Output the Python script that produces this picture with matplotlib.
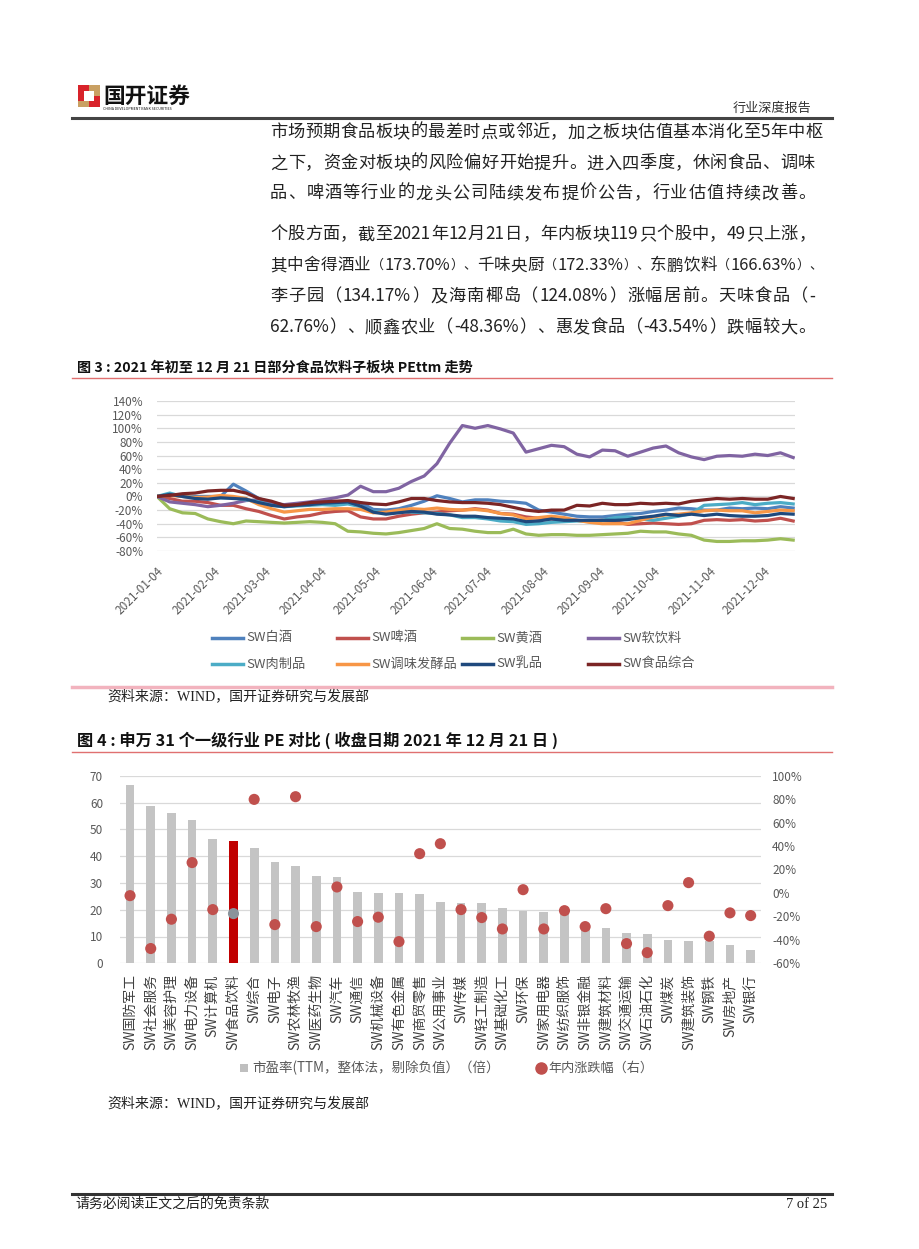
import matplotlib
matplotlib.use("Agg")
import matplotlib.pyplot as plt
from matplotlib.lines import Line2D
from matplotlib.patches import Rectangle
from matplotlib.font_manager import FontProperties, findfont, get_font
import numpy as np
import pandas as pd

plt.rcParams['font.family'] = ['Noto Sans CJK SC', 'DejaVu Sans']

W, H = 920, 1249

# ---------------- data: chart 1 (PE ttm change, %) ----------------
dates = pd.date_range('2021-01-04', '2021-12-20', freq='7D')
tick_dates = ['2021-01-04', '2021-02-04', '2021-03-04', '2021-04-04', '2021-05-04', '2021-06-04',
              '2021-07-04', '2021-08-04', '2021-09-04', '2021-10-04', '2021-11-04', '2021-12-04']
y1_ticks = [-80, -60, -40, -20, 0, 20, 40, 60, 80, 100, 120, 140]

baijiu = [0, 3, 0, 0, 0, 0, 18, 8, -3, -9, -13, -12, -9, -10, -9, -7, -9, -19, -20, -18, -13, -7, 1, -3, -8,
          -5, -5, -7, -8, -10, -20, -23, -26, -29, -30, -30, -28, -26, -25, -22, -20, -17, -18, -20, -20, -17,
          -18, -17, -18, -15, -17]
pijiu = [0, -3, -7, -7, -9, -13, -13, -18, -22, -28, -33, -30, -28, -24, -22, -21, -30, -33, -33, -29, -26, -24,
         -23, -21, -20, -18, -20, -25, -26, -30, -32, -33, -34, -35, -36, -35, -37, -41, -40, -39, -40, -41, -40,
         -35, -34, -35, -34, -36, -35, -32, -36]
huangjiu = [0, -18, -24, -25, -33, -37, -40, -36, -37, -38, -39, -38, -37, -38, -40, -51, -52, -54, -55, -53, -50,
            -47, -40, -47, -48, -51, -53, -53, -48, -55, -57, -56, -56, -57, -57, -56, -55, -54, -51, -52, -52, -55,
            -57, -64, -66, -66, -65, -65, -64, -62, -64]
ruanyinliao = [0, -8, -10, -12, -15, -13, -10, -6, -5, -10, -12, -10, -8, -5, -2, 2, 15, 7, 7, 12, 22, 30, 48, 78,
               104, 100, 104, 99, 93, 65, 70, 75, 73, 62, 58, 68, 67, 59, 65, 71, 74, 64, 58, 54, 59, 60, 59, 62,
               60, 64, 57]
rouzhipin = [0, 5, 0, -2, -3, -2, -2, -5, -8, -13, -15, -14, -13, -12, -13, -11, -15, -22, -24, -21, -23, -24, -25,
             -27, -31, -31, -33, -36, -37, -41, -40, -38, -37, -36, -37, -35, -31, -30, -33, -35, -32, -29, -25,
             -13, -12, -11, -9, -12, -10, -9, -11]
tiaowei = [0, 1.5, 0, -1.5, -1, 1.5, 0, -3, -12, -18, -23, -21, -19, -19, -18, -18, -19, -24, -23, -20, -18, -19,
           -17, -19, -20, -19, -21, -25, -27, -33, -31, -29, -31, -35, -38, -40, -40, -40, -35, -30, -27, -26, -24,
           -21, -20, -21, -21, -24, -22, -20, -21]
rupin = [0, 3, 0, -3, -4, -2, -3, -4, -9, -13, -15, -13, -12, -10, -9, -8, -14, -23, -26, -24, -22, -23, -26, -27,
         -29, -29, -31, -32, -33, -37, -36, -33, -35, -35, -35, -35, -35, -34, -31, -29, -26, -28, -26, -28, -26,
         -28, -29, -29, -28, -25, -26]
shipin = [0, 1.5, 4, 5, 8, 9, 9, 5, -3, -7, -13, -12, -9, -8, -7, -6, -9, -11, -12, -8, -3, -3, -6, -8, -9, -9,
          -10, -12, -16, -20, -22, -20, -20, -13, -14, -10, -12, -12, -10, -11, -10, -11, -7, -5, -3, -4, -3, -4,
          -4, 0, -3]

series_names = ['SW白酒', 'SW啤酒', 'SW黄酒', 'SW软饮料', 'SW肉制品', 'SW调味发酵品', 'SW乳品', 'SW食品综合']
series_vals = [baijiu, pijiu, huangjiu, ruanyinliao, rouzhipin, tiaowei, rupin, shipin]
series_colors = ['#4F81BD', '#C0504D', '#9BBB59', '#8064A2', '#4BACC6', '#F79646', '#1F497D', '#7B2525']

# ---------------- data: chart 2 ----------------
industries = ['SW国防军工', 'SW社会服务', 'SW美容护理', 'SW电力设备', 'SW计算机', 'SW食品饮料', 'SW综合', 'SW电子',
              'SW农林牧渔', 'SW医药生物', 'SW汽车', 'SW通信', 'SW机械设备', 'SW有色金属', 'SW商贸零售', 'SW公用事业',
              'SW传媒', 'SW轻工制造', 'SW基础化工', 'SW环保', 'SW家用电器', 'SW纺织服饰', 'SW非银金融', 'SW建筑材料',
              'SW交通运输', 'SW石油石化', 'SW煤炭', 'SW建筑装饰', 'SW钢铁', 'SW房地产', 'SW银行']
pe_ttm = [66.4, 58.7, 56.0, 53.5, 46.3, 45.6, 43.0, 37.7, 36.3, 32.6, 32.1, 26.7, 26.2, 26.2, 25.7, 22.9,
          22.5, 22.5, 20.5, 19.7, 19.0, 18.3, 13.1, 13.1, 11.3, 10.9, 8.7, 8.5, 8.3, 6.8, 5.0]
ytd_change = [-2.3, -47.4, -22.4, 25.9, -14.2, -17.6, 79.8, -27.0, 82.1, -28.7, 5.1, -24.4, -20.7, -41.5, 33.5,
              42.0, -14.2, -21.0, -30.7, 2.8, -30.7, -15.1, -28.7, -13.4, -43.2, -50.9, -10.8, 8.8, -36.9, -17.0,
              -19.3]
highlight = 'SW食品饮料'

# ---------------- figure ----------------
fig = plt.figure(figsize=(W / 100, H / 100), dpi=100)
fig.patch.set_facecolor('white')
renderer = fig.canvas.get_renderer()


def fx(x):
    return x / W


def fy(y):
    return 1 - y / H


def hline(y, x0=72, x1=832, color='#333333', lw=1.0):
    fig.add_artist(Line2D([fx(x0), fx(x1)], [fy(y), fy(y)], color=color, lw=lw, transform=fig.transFigure))


def fit_text(x, y, s, width, fs0=10, **kw):
    t = fig.text(fx(x), fy(y), s, fontsize=fs0, **kw)
    bb = t.get_window_extent(renderer)
    if bb.width > 0:
        t.set_fontsize(fs0 * width / bb.width)
    return t


# justified body text, placed token by token (CJK glyphs singly, latin runs together)
BODY_FS = 12.4
body_fp = FontProperties(family='Noto Sans CJK SC')
body_font = get_font(findfont(body_fp))
PUNCT = '（）、，。：；'


def glyph_adv(ch, fs):
    body_font.set_size(fs, 100)
    g = body_font.load_char(ord(ch))
    return g.linearHoriAdvance / 65536.0


def tokenize(s):
    toks = []
    buf = ''
    for c in s:
        if ord(c) < 128:
            buf += c
        else:
            if buf:
                toks.append(buf)
                buf = ''
            toks.append(c)
    if buf:
        toks.append(buf)
    return toks


def draw_justified(yc, s, x0=270, x1=815):
    toks = tokenize(s)
    target = x1 - x0
    fs = BODY_FS
    natural = sum(glyph_adv(c, fs) for tk in toks for c in tk)
    if natural > target:
        fs = BODY_FS * max(0.96, target / natural)
    sizes = [fs] * len(toks)
    advs = [sum(glyph_adv(c, fs) for c in tk) for tk in toks]
    em = fs * 100 / 72
    total = sum(advs)
    if total > target:
        # compress: draw full-width punctuation a little smaller
        idx = [i for i, tk in enumerate(toks) if len(tk) == 1 and tk in PUNCT]
        p_total = sum(advs[i] for i in idx)
        if p_total > 0:
            scale = max(0.6, 1 - (total - target) / p_total)
            for i in idx:
                sizes[i] = fs * scale
                advs[i] = glyph_adv(toks[i], sizes[i])
        total = sum(advs)
    gap = (target - total) / (len(toks) - 1)
    x = x0
    base = yc + 6.3
    for i, tk in enumerate(toks):
        lift = (1 - sizes[i] / fs) * 0.38 * em
        fig.text(fx(x), fy(base - lift), tk, fontsize=sizes[i], color='#222222',
                 family='Noto Sans CJK SC', va='baseline', ha='left')
        x += advs[i] + max(gap, 0.3)


# header logo
fig.add_artist(Rectangle((fx(78), fy(107)), 22 / W, 22 / H, transform=fig.transFigure, color='#D8232A', lw=0))
fig.add_artist(Rectangle((fx(89), fy(96)), 11 / W, 11 / H, transform=fig.transFigure, color='#C9A063', lw=0))
fig.add_artist(Rectangle((fx(78), fy(107)), 11 / W, 6 / H, transform=fig.transFigure, color='#C9A063', lw=0))
fig.add_artist(Rectangle((fx(84), fy(101)), 10 / W, 10 / H, transform=fig.transFigure, color='white', lw=0))
fit_text(103, 96, '国开证券', 87, 16, fontweight='bold', color='#111111', va='center', ha='left')
fig.text(fx(103), fy(109), 'CHINA DEVELOPMENT BANK SECURITIES', fontsize=2.6, color='#111111', va='center')
fit_text(733, 108, '行业深度报告', 79, 9.5, color='#333333', va='center', ha='left')
hline(118, color='#444444', lw=2.2)

# body text
body = [
    (131, '市场预期食品板块的最差时点或邻近，加之板块估值基本消化至5年中枢'),
    (162, '之下，资金对板块的风险偏好开始提升。进入四季度，休闲食品、调味'),
    (192, '品、啤酒等行业的龙头公司陆续发布提价公告，行业估值持续改善。'),
    (233, '个股方面，截至2021年12月21日，年内板块119只个股中，49只上涨，'),
    (264, '其中舍得酒业（173.70%）、千味央厨（172.33%）、东鹏饮料（166.63%）、'),
    (295, '李子园（134.17%）及海南椰岛（124.08%）涨幅居前。天味食品（-'),
    (326, '62.76%）、顺鑫农业（-48.36%）、惠发食品（-43.54%）跌幅较大。'),
]
for y, t in body:
    draw_justified(y, t)

# chart 1 title
fit_text(77, 368, '图 3 : 2021 年初至 12 月 21 日部分食品饮料子板块 PEttm 走势', 396, 10,
         fontweight='bold', color='#111111', va='center')
hline(378, color='#E07070', lw=1.0)

# ---------------- chart 1 ----------------
ax1 = fig.add_axes([fx(157), fy(551), (795 - 157) / W, (551 - 401) / H])
for name, vals, c in zip(series_names, series_vals, series_colors):
    ax1.plot(dates, vals, color=c, lw=2.3, solid_joinstyle='round')
ax1.set_ylim(-80, 140)
ax1.set_yticks(y1_ticks)
ax1.set_yticklabels([f'{v}%' for v in y1_ticks])
ax1.set_xlim(pd.Timestamp('2021-01-04'), pd.Timestamp('2021-12-21'))
ax1.set_xticks(pd.to_datetime(tick_dates))
ax1.set_xticklabels(tick_dates, rotation=45, ha='right', rotation_mode='anchor')
ax1.grid(axis='y', color='#D9D9D9', lw=0.9)
ax1.set_axisbelow(True)
for s in ax1.spines.values():
    s.set_visible(False)
ax1.tick_params(axis='both', length=0, colors='#595959', labelsize=8.5)
ax1.tick_params(axis='x', pad=10)
ax1.tick_params(axis='y', pad=10)

# legend chart 1 (manual layout)
leg_x = [212, 337, 462, 588]
leg_y = [638, 664]
for i, (name, c) in enumerate(zip(series_names, series_colors)):
    x0 = leg_x[i % 4]
    y0 = leg_y[i // 4]
    fig.add_artist(Line2D([fx(x0), fx(x0 + 31)], [fy(y0), fy(y0)], color=c, lw=2.5, transform=fig.transFigure))
    fig.text(fx(x0 + 34), fy(y0), name, fontsize=9.5, color='#595959', va='center', ha='left')

hline(687, color='#F2B3BE', lw=2.5)
fit_text(107, 697, '资料来源：WIND，国开证券研究与发展部', 261, 10, color='#222222', va='center',
         family=['Liberation Serif', 'Noto Sans CJK SC'])

# chart 2 title
fit_text(77, 740, '图 4 : 申万 31 个一级行业 PE 对比 ( 收盘日期 2021 年 12 月 21 日 )', 478, 10,
         fontweight='bold', color='#111111', va='center')
hline(752, color='#E07070', lw=1.0)

# ---------------- chart 2 ----------------
ax2 = fig.add_axes([fx(119.7), fy(963.3), (761 - 119.7) / W, (963.3 - 775.7) / H])
xpos = np.arange(len(industries))
bar_colors = ['#C00000' if n == highlight else '#C4C4C4' for n in industries]
ax2.bar(xpos, pe_ttm, width=0.42, color=bar_colors, zorder=2)
ax2.set_ylim(0, 70)
ax2.set_yticks(range(0, 71, 10))
ax2.set_xlim(-0.5, len(industries) - 0.5)
ax2.set_xticks(xpos)
ax2.set_xticklabels(industries, rotation=90, ha='center', va='top')
ax2.grid(axis='y', color='#D9D9D9', lw=0.9, zorder=0)
ax2.set_axisbelow(True)
for s in ax2.spines.values():
    s.set_visible(False)
ax2.tick_params(axis='y', length=0, colors='#595959', labelsize=8.5, pad=12)
ax2.tick_params(axis='x', length=0, colors='#404040', labelsize=10, pad=8)

ax2r = ax2.twinx()
dot_colors = ['#8A939B' if n == highlight else '#C0504D' for n in industries]
ax2r.scatter(xpos, ytd_change, s=64, color=dot_colors, zorder=3, linewidths=0)
ax2r.set_ylim(-60, 100)
r_ticks = list(range(-60, 101, 20))
ax2r.set_yticks(r_ticks)
ax2r.set_yticklabels([f'{v}%' for v in r_ticks])
for s in ax2r.spines.values():
    s.set_visible(False)
ax2r.tick_params(axis='y', length=0, colors='#595959', labelsize=8.5, pad=8)

# legend chart 2 (manual)
fig.add_artist(Rectangle((fx(240), fy(1072)), 8 / W, 8 / H, transform=fig.transFigure, color='#BFBFBF', lw=0))
fit_text(252, 1068, '市盈率(TTM，整体法，剔除负值）（倍）', 248, 10, color='#595959', va='center')
fig.add_artist(Line2D([fx(541)], [fy(1068)], marker='o', markersize=8, color='#C0504D', lw=0,
                      transform=fig.transFigure))
fit_text(548, 1068, '年内涨跌幅（右）', 105, 10, color='#595959', va='center')

fit_text(107, 1104, '资料来源：WIND，国开证券研究与发展部', 261, 10, color='#222222', va='center',
         family=['Liberation Serif', 'Noto Sans CJK SC'])

# footer
hline(1194, color='#333333', lw=2.2)
fit_text(75, 1204, '请务必阅读正文之后的免责条款', 195, 10, color='#222222', va='center')
fit_text(786, 1204, '7 of 25', 41, 10, color='#222222', va='center', ha='left', family='Liberation Serif')

fig.savefig('out.png', dpi=100, facecolor='white')
